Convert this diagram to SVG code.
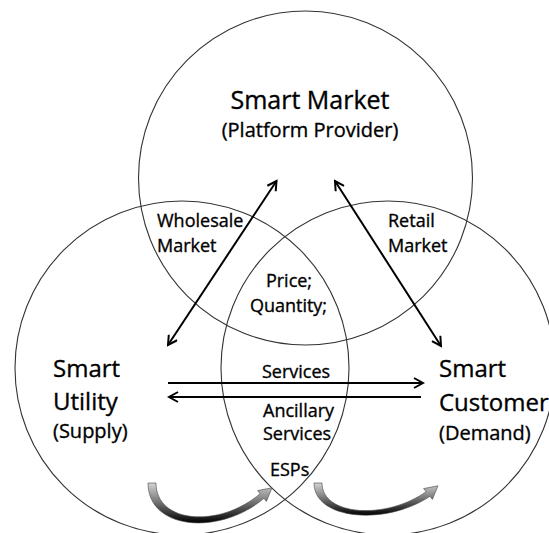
<svg xmlns="http://www.w3.org/2000/svg" width="549" height="533" viewBox="0 0 549 533">
<style>
.c{fill:none;stroke:#333;stroke-width:1.1}
.t{font-family:"Open Sans","Liberation Sans",sans-serif;fill:#000;stroke:#000;stroke-width:0.35}
.big{font-size:24px}
.mk{font-size:25px}
.mid{font-size:20px}
.sm{font-size:18px}
.ar{stroke:#000;stroke-width:2;fill:none}
.ca{stroke:#444;stroke-width:0.6}
</style>
<defs>
<marker id="ah" viewBox="-10 -6 12 12" refX="0" refY="0" markerWidth="12" markerHeight="12" markerUnits="userSpaceOnUse" orient="auto-start-reverse">
<path d="M-9,-5 L0,0 L-9,5" fill="none" stroke="#000" stroke-width="2"/>
</marker>
<linearGradient id="g" x1="0" y1="0" x2="0" y2="1">
<stop offset="0" stop-color="#d4d4d4"/>
<stop offset="0.4" stop-color="#858585"/>
<stop offset="1" stop-color="#000"/>
</linearGradient>
</defs>
<rect width="549" height="533" fill="#fff"/>
<g id="market">
<circle class="c" cx="305.5" cy="178" r="167"/>
<text class="t mk" x="310" y="109" text-anchor="middle">Smart Market</text>
<text class="t mid" x="310" y="137" text-anchor="middle">(Platform Provider)</text>
</g>
<g id="utility">
<circle class="c" cx="182" cy="368" r="167"/>
<text class="t big" x="53" y="377">Smart</text>
<text class="t big" x="53" y="410">Utility</text>
<text class="t mid" x="53" y="438">(Supply)</text>
</g>
<g id="customer">
<circle class="c" cx="388" cy="368" r="167"/>
<text class="t big" x="439" y="377">Smart</text>
<text class="t big" x="439" y="411">Customer</text>
<text class="t mid" x="439" y="440">(Demand)</text>
</g>
<g id="labels">
<text class="t sm" x="157" y="227">Wholesale</text>
<text class="t sm" x="157" y="252">Market</text>
<text class="t sm" x="388" y="227">Retail</text>
<text class="t sm" x="388" y="252">Market</text>
<text class="t sm" x="289" y="287" text-anchor="middle">Price;</text>
<text class="t sm" x="288.5" y="312" text-anchor="middle">Quantity;</text>
<text class="t sm" x="262" y="378">Services</text>
<text class="t sm" x="263" y="417">Ancillary</text>
<text class="t sm" x="263" y="440">Services</text>
<text class="t sm" x="270" y="476">ESPs</text>
</g>
<g id="connectors">
<line class="ar" x1="168" y1="345" x2="276.5" y2="181" marker-start="url(#ah)" marker-end="url(#ah)"/>
<line class="ar" x1="335" y1="181" x2="441" y2="346" marker-start="url(#ah)" marker-end="url(#ah)"/>
<line class="ar" x1="168" y1="383" x2="423" y2="383" marker-end="url(#ah)"/>
<line class="ar" x1="421" y1="397" x2="169" y2="397" marker-end="url(#ah)"/>
<path class="ca" fill="url(#g)" d="M148,483 L156,483 C156,524 220,528 260.1,493.7 L257.6,490.6 L272,487.8 L266.4,501.4 L263.9,498.3 C220,536 148,530 148,483 Z"/>
<path class="ca" fill="url(#g)" d="M314,483 L322,483 C322,516 386,520 426.1,491.7 L423.6,488.6 L438,485.8 L432.4,499.4 L429.9,496.3 C386,526 314,520 314,483 Z"/>
</g>
</svg>
